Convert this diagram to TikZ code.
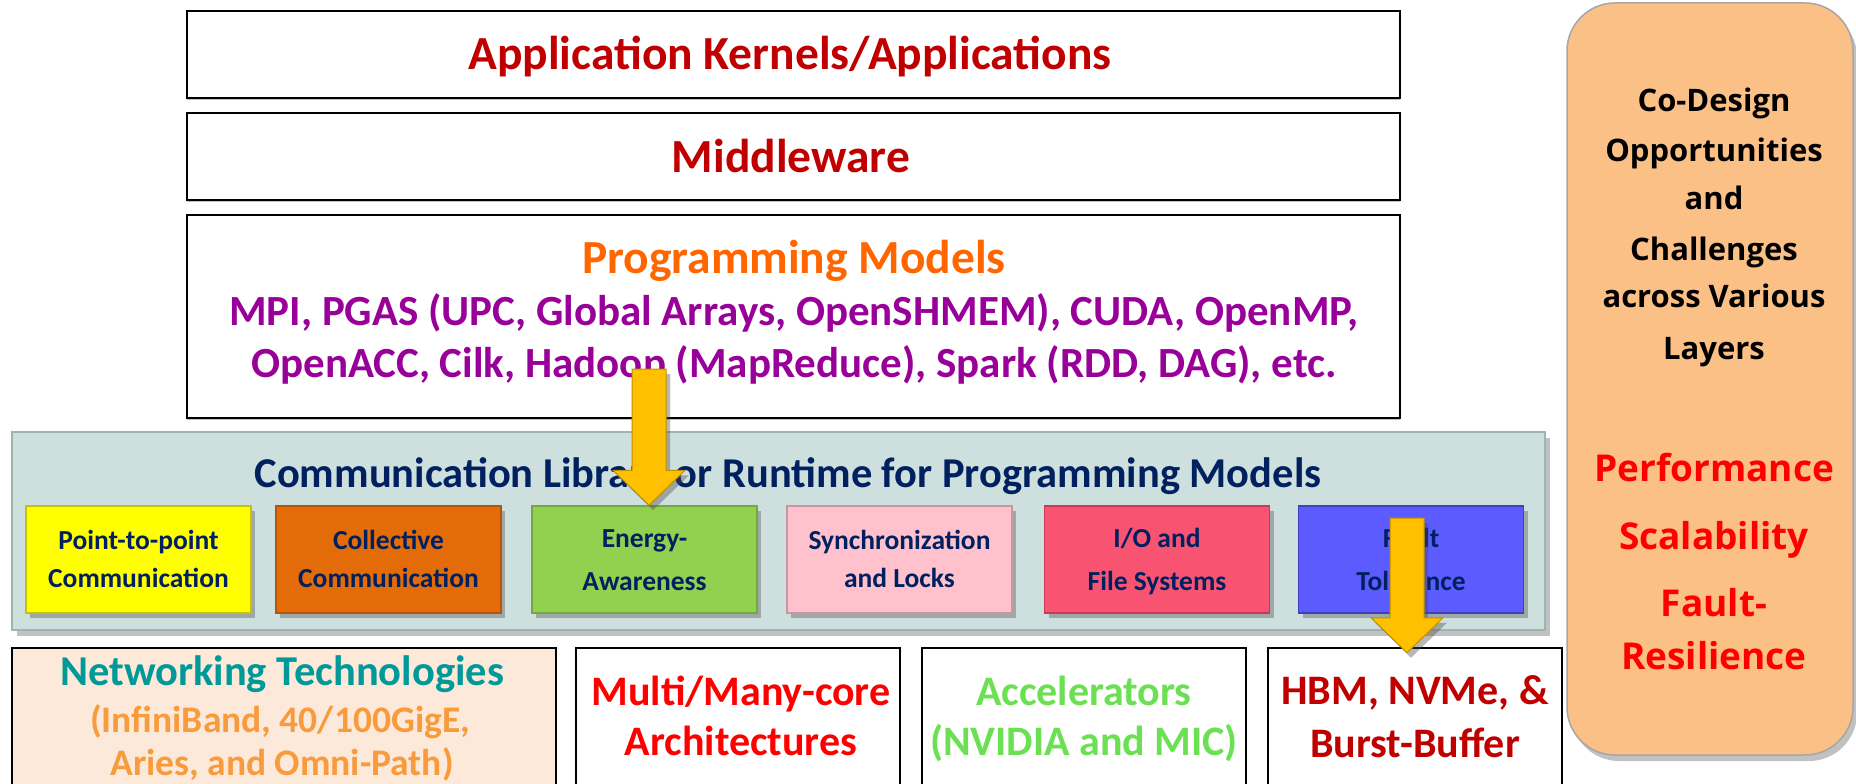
\documentclass[tikz,border=0pt]{standalone}
\usepackage{fontspec}
\setmainfont{Carlito}
\newfontfamily\osans{Open Sans}
\usetikzlibrary{shadows,calc}
\definecolor{dred}{HTML}{C00000}
\definecolor{porange}{HTML}{FF6600}
\definecolor{purp}{HTML}{990099}
\definecolor{navy}{HTML}{002060}
\definecolor{tealc}{HTML}{009999}
\definecolor{lorange}{HTML}{F89B3D}
\definecolor{brred}{HTML}{FF0000}
\definecolor{grn}{HTML}{6BE052}
\definecolor{nfill}{HTML}{FDE9D9}
\definecolor{commfill}{HTML}{CDE0DE}
\definecolor{commdraw}{HTML}{9FB3B1}
\definecolor{yelfill}{HTML}{FFFF00}
\definecolor{yeldraw}{HTML}{C9C000}
\definecolor{collfill}{HTML}{E36C09}
\definecolor{colldraw}{HTML}{B55607}
\definecolor{enfill}{HTML}{92D050}
\definecolor{endraw}{HTML}{72A83C}
\definecolor{syncfill}{HTML}{FFC1CC}
\definecolor{syncdraw}{HTML}{C8969F}
\definecolor{iofill}{HTML}{F95372}
\definecolor{iodraw}{HTML}{C83A55}
\definecolor{ftfill}{HTML}{5B5BFF}
\definecolor{ftdraw}{HTML}{3F3FC0}
\definecolor{panelfill}{HTML}{FBC086}
\definecolor{paneldraw}{HTML}{A6A6A6}
\definecolor{arrfill}{HTML}{FFC000}
\definecolor{arrdraw}{HTML}{BF9000}
\tikzset{
  layer/.style={draw=black, line width=2.5pt, fill=white, inner sep=0pt, minimum width=1213pt,
    drop shadow={shadow xshift=0pt, shadow yshift=-2pt, fill=black!40, opacity=.6}},
  hwbox/.style={draw=black, line width=2.5pt, fill=white, inner sep=0pt, minimum height=152pt},
  subbox/.style={line width=1.5pt, inner sep=0pt, minimum width=225pt, minimum height=107pt,
    drop shadow={shadow xshift=4pt, shadow yshift=-5pt, fill=black!60, opacity=.45}},
  txt/.style={anchor=base, inner sep=0pt, font=\bfseries},
  bigtxt/.style={txt, font=\fontsize{47.5}{52}\selectfont\bfseries, text=dred},
  purptxt/.style={txt, font=\fontsize{43}{48}\selectfont\bfseries, text=purp},
  subtxt/.style={txt, font=\fontsize{27.5}{32}\selectfont\bfseries, text=navy},
  hwtxt/.style={txt, font=\fontsize{42}{46}\selectfont\bfseries},
  paren/.style={txt, font=\fontsize{37.5}{42}\selectfont\bfseries, text=lorange},
  ptxt/.style={txt, font=\osans\fontsize{31}{36}\selectfont\bfseries, text=black},
  rtxt/.style={txt, font=\osans\fontsize{37}{42}\selectfont\bfseries, text=brred},
  blockarrow/.style={fill=arrfill, draw=arrdraw, line width=1pt, line join=miter,
    drop shadow={shadow xshift=4pt, shadow yshift=-5pt, fill=black!70, opacity=.4}}
}
\begin{document}
\begin{tikzpicture}[x=1pt,y=-1pt]
\clip (0,0) rectangle (1856,784);
\fill[white] (0,0) rectangle (1856,784);

% upper layers
\node[layer, minimum height=87pt] (app) at (793.5,54.5) {};
\node[layer, minimum height=87pt] (mid) at (793.5,156.5) {};
\node[layer, minimum height=203pt] (pm) at (793.5,316.5) {};
\node[bigtxt] (appt) at (790,70) {Application Kernels/Applications};
\node[bigtxt] (midt) at (791,172) {Middleware};
\node[txt, font=\fontsize{47.5}{52}\selectfont\bfseries, text=porange] (pmt) at (794,273) {Programming Models};
\node[purptxt] (pm1) at (794,325) {MPI, PGAS (UPC, Global Arrays, OpenSHMEM), CUDA, OpenMP,};
\node[purptxt] (pm2) at (794,377) {OpenACC, Cilk, Hadoop (MapReduce), Spark (RDD, DAG), etc.};

% communication layer
\node[draw=commdraw, fill=commfill, line width=2pt, minimum width=1533pt, minimum height=198pt, inner sep=0pt,
  drop shadow={shadow xshift=5pt, shadow yshift=-6pt, fill=black!60, opacity=.4}] (comm) at (778.5,531) {};
\node[txt, font=\fontsize{42.5}{47}\selectfont\bfseries, text=navy] (commt) at (788,487) {Communication Library or Runtime for Programming Models};

\node[subbox, fill=yelfill, draw=yeldraw] (p2p) at (138.5,559.5) {};
\node[subbox, fill=collfill, draw=colldraw] (coll) at (388.5,559.5) {};
\node[subbox, fill=enfill, draw=endraw] (en) at (644.5,559.5) {};
\node[subbox, fill=syncfill, draw=syncdraw] (sync) at (899.5,559.5) {};
\node[subbox, fill=iofill, draw=iodraw] (io) at (1157,559.5) {};
\node[subbox, fill=ftfill, draw=ftdraw] (ft) at (1411,559.5) {};

\node[subtxt] (p2pa) at (p2p.center |- 0,549) {Point-to-point};
\node[subtxt] (p2pb) at (p2p.center |- 0,587) {Communication};
\node[subtxt] (colla) at (coll.center |- 0,549) {Collective};
\node[subtxt] (collb) at (coll.center |- 0,587) {Communication};
\node[subtxt] (ena) at (en.center |- 0,547) {Energy-};
\node[subtxt] (enb) at (en.center |- 0,590) {Awareness};
\node[subtxt] (synca) at (sync.center |- 0,549) {Synchronization};
\node[subtxt] (syncb) at (sync.center |- 0,587) {and Locks};
\node[subtxt] (ioa) at (io.center |- 0,547) {I/O and};
\node[subtxt] (iob) at (io.center |- 0,590) {File Systems};
\node[subtxt] (fta) at (ft.center |- 0,547) {Fault};
\node[subtxt] (ftb) at (ft.center |- 0,590) {Tolerance};

% hardware layer
\node[hwbox, fill=nfill, minimum width=544pt] (net) at (284,724) {};
\node[hwbox, minimum width=324pt] (mc) at (738,724) {};
\node[hwbox, minimum width=324pt] (acc) at (1084,724) {};
\node[hwbox, minimum width=294pt] (hbm) at (1415,724) {};

\node[txt, font=\fontsize{42.5}{47}\selectfont\bfseries, text=tealc] (neta) at (282,685) {Networking Technologies};
\node[paren] (netb) at (280,732) {(InfiniBand, 40/100GigE,};
\node[paren] (netc) at (282,775) {Aries, and Omni-Path)};
\node[hwtxt, text=brred] (mca) at (741,705) {Multi/Many-core};
\node[hwtxt, text=brred] (mcb) at (741,755) {Architectures};
\node[hwtxt, text=grn] (acca) at (1084,705) {Accelerators};
\node[hwtxt, text=grn] (accb) at (1084,755) {(NVIDIA and MIC)};
\node[hwtxt, text=dred] (hbma) at (1415,704) {HBM, NVMe, \&};
\node[hwtxt, text=dred] (hbmb) at (1415,757) {Burst-Buffer};

% right panel
\node[draw=paneldraw, fill=panelfill, line width=1.5pt, rounded corners=48pt, minimum width=286pt,
  minimum height=752pt, inner sep=0pt,
  drop shadow={shadow xshift=4pt, shadow yshift=-6pt, fill=black!60, opacity=.4}] (panel) at (1710,379) {};
\node[ptxt] (pa) at (1714,111) {Co-Design};
\node[ptxt] (pb) at (1714,161) {Opportunities};
\node[ptxt] (pc) at (1714,209) {and};
\node[ptxt] (pd) at (1714,260) {Challenges};
\node[ptxt] (pe) at (1714,307) {across Various};
\node[ptxt] (pf) at (1714,359) {Layers};
\node[rtxt] (pg) at (1714,481) {Performance};
\node[rtxt] (ph) at (1714,549) {Scalability};
\node[rtxt] (pi) at (1714,616) {Fault-};
\node[rtxt] (pj) at (1714,669) {Resilience};

% block arrows
\coordinate (a1s) at (649,369);
\coordinate (a1e) at (a1s |- en.north);
\draw[blockarrow] ($(a1s)+(-17,0)$) -- ($(a1s)+(17,0)$) -- ($(a1e)+(17,-35)$) -- ($(a1e)+(36,-35)$)
  -- (a1e) -- ($(a1e)+(-36,-35)$) -- ($(a1e)+(-17,-35)$) -- cycle;
\coordinate (a2s) at (1407,518);
\coordinate (a2e) at ($(a2s |- hbm.north)+(0,6)$);
\draw[blockarrow] ($(a2s)+(-17,0)$) -- ($(a2s)+(17,0)$) -- ($(a2e)+(17,-35)$) -- ($(a2e)+(36,-35)$)
  -- (a2e) -- ($(a2e)+(-36,-35)$) -- ($(a2e)+(-17,-35)$) -- cycle;
\end{tikzpicture}
\end{document}
